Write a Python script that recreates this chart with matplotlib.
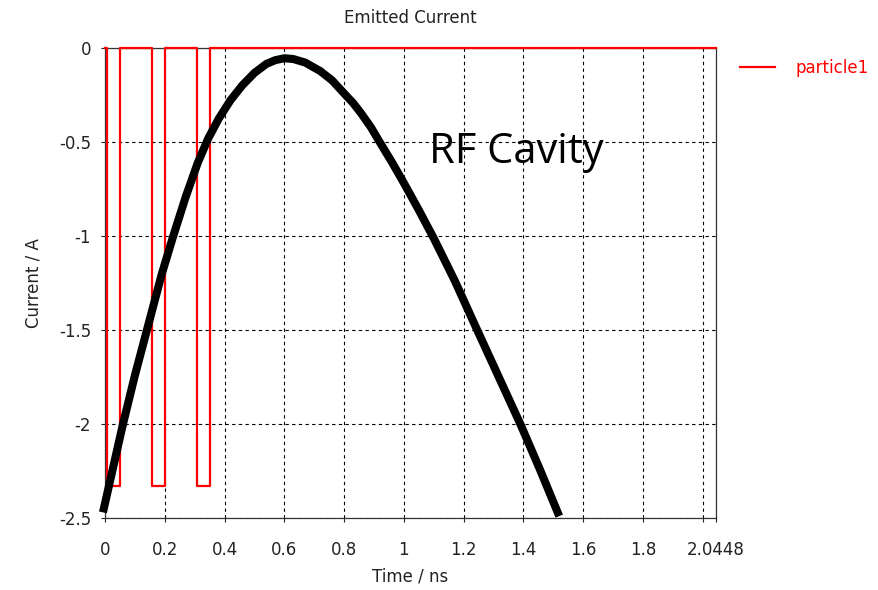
import numpy as np
import matplotlib
matplotlib.use("Agg")
import matplotlib.pyplot as plt

plt.rcParams['axes.unicode_minus'] = False

# emitted current of particle1 (square pulses)
t_particle = [0.0, 0.007, 0.007, 0.05, 0.05, 0.158, 0.158, 0.2, 0.2,
              0.308, 0.308, 0.35, 0.35, 2.0448]
i_particle = [0.0, 0.0, -2.33, -2.33, 0.0, 0.0, -2.33, -2.33, 0.0,
              0.0, -2.33, -2.33, 0.0, 0.0]

# hand-drawn RF cavity field sketch
t_rf = [-0.007, 0.03, 0.06, 0.10, 0.14, 0.19, 0.228, 0.27, 0.31, 0.345, 0.38,
        0.42, 0.46, 0.50, 0.54, 0.57, 0.60, 0.63, 0.67, 0.72, 0.76, 0.80, 0.83,
        0.857, 0.89, 0.918, 0.96, 1.0, 1.05, 1.10, 1.17, 1.24, 1.315, 1.39, 1.455, 1.52]
i_rf = [-2.47, -2.21, -2.0, -1.74, -1.5, -1.2, -1.0, -0.79, -0.61, -0.48, -0.375,
        -0.275, -0.195, -0.13, -0.082, -0.062, -0.052, -0.056, -0.075, -0.12, -0.17,
        -0.239, -0.29, -0.345, -0.42, -0.495, -0.605, -0.716, -0.86, -1.01, -1.235,
        -1.48, -1.74, -2.0, -2.24, -2.49]

xticks = [0, 0.2, 0.4, 0.6, 0.8, 1.0, 1.2, 1.4, 1.6, 1.8, 2.0, 2.0448]
xticklabels = ['0', '0.2', '0.4', '0.6', '0.8', '1', '1.2', '1.4', '1.6', '1.8', '', '2.0448']
yticks = [0, -0.5, -1, -1.5, -2, -2.5]
yticklabels = ['0', '-0.5', '-1', '-1.5', '-2', '-2.5']

fig = plt.figure(figsize=(8.79, 5.9), dpi=100)
ax = fig.add_axes([0.1195, 0.122, 0.6951, 0.7958])

ax.plot(t_particle, i_particle, color='#ff0000', lw=1.6, label='particle1',
        clip_on=False, zorder=3)
ax.plot(t_rf, i_rf, color='black', lw=5.8, solid_capstyle='butt',
        solid_joinstyle='round', clip_on=False, zorder=4)

ax.set_xlim(0, 2.0448)
ax.set_ylim(-2.5, 0)
ax.set_xticks(xticks)
ax.set_xticklabels(xticklabels)
ax.set_yticks(yticks)
ax.set_yticklabels(yticklabels)
ax.tick_params(direction='out', length=3, width=0.8, labelsize=12, colors='#222222')
ax.tick_params(axis='x', pad=13.5)
ax.tick_params(axis='y', pad=7)
ax.grid(True, color='black', linestyle=(0, (3, 3)), linewidth=0.8)
for s in ax.spines.values():
    s.set_color('#333333')
    s.set_linewidth(0.9)

ax.set_title('Emitted Current', fontsize=12, color='#222222', pad=18)
ax.set_xlabel('Time / ns', fontsize=12, color='#222222', labelpad=6)
ax.set_ylabel('Current / A', fontsize=12, color='#222222', labelpad=12)

ax.text(1.085, -0.61, 'RF Cavity', fontsize=30, family='Open Sans',
        ha='left', va='baseline', color='black', zorder=5)

ax.legend(loc='center left', bbox_to_anchor=(1.04, 0.958), frameon=False,
          fontsize=12, handlelength=2.1, handletextpad=1.2, borderpad=0,
          borderaxespad=0, labelcolor='linecolor')

plt.savefig('out.png', dpi=100)
plt.close()
